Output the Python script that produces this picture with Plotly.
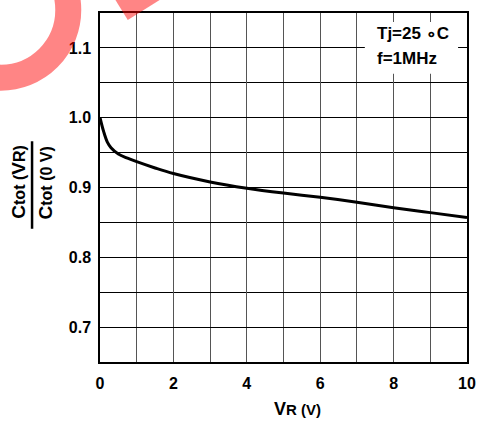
import plotly.graph_objects as go

# Data
vr = [0, 0.1, 0.2, 0.3, 0.5, 0.75, 1, 1.5, 2, 3, 4, 5, 6, 7, 8, 9, 10]
ratio = [1.0, 0.980, 0.965, 0.957, 0.948, 0.942, 0.937, 0.928, 0.920, 0.908,
         0.899, 0.892, 0.886, 0.879, 0.871, 0.864, 0.857]
x_ticks = [0, 2, 4, 6, 8, 10]
y_ticks = [0.7, 0.8, 0.9, 1.0, 1.1]

W, H = 487, 423
L, R, T, B = 100, 17, 11, 61
PW, PH = W - L - R, H - T - B

def px(x):
    return (x - L) / PW

def py(y):
    return (H - B - y) / PH

FONT = "Liberation Sans, Arial, sans-serif"

fig = go.Figure()
fig.add_trace(go.Scatter(x=vr, y=ratio, mode="lines",
                         line=dict(color="black", width=3, shape="spline"),
                         showlegend=False, hoverinfo="skip"))

fig.update_layout(
    width=W, height=H,
    margin=dict(l=L, r=R, t=T, b=B),
    paper_bgcolor="white", plot_bgcolor="white",
    font=dict(family=FONT, color="black"),
    xaxis=dict(range=[0, 10], tickvals=x_ticks, ticktext=[str(v) for v in x_ticks],
               showgrid=True, gridcolor="#555", gridwidth=1.3,
               minor=dict(dtick=1, tick0=0, showgrid=True, gridcolor="#555", gridwidth=1.3),
               showline=True, linecolor="black", linewidth=1.5, mirror=True,
               ticks="", zeroline=False, ticklabelstandoff=6,
               tickfont=dict(family=FONT, size=16, color="black", weight="bold")),
    yaxis=dict(range=[0.65, 1.15], tickvals=y_ticks, ticktext=[f"{v:.1f}" for v in y_ticks],
               showgrid=True, gridcolor="black", gridwidth=1,
               minor=dict(dtick=0.05, tick0=0.65, showgrid=True, gridcolor="black", gridwidth=1),
               showline=True, linecolor="black", linewidth=1.5, mirror=True,
               ticks="", zeroline=False, ticklabelstandoff=4,
               tickfont=dict(family=FONT, size=16, color="black", weight="bold")),
)

shapes = []
# white box behind conditions text
shapes.append(dict(type="rect", xref="paper", yref="paper",
                   x0=px(367), x1=px(461), y0=py(72), y1=py(20),
                   fillcolor="white", line=dict(width=0), layer="above"))
# fraction bar of y title
shapes.append(dict(type="line", xref="paper", yref="paper",
                   x0=px(31.5), x1=px(31.5), y0=py(228), y1=py(140),
                   line=dict(color="black", width=2.5)))
# red watermark fragments
cx, cy, r = 0, 8, 68
shapes.append(dict(type="circle", xref="paper", yref="paper",
                   x0=px(cx - r), x1=px(cx + r), y0=py(cy + r), y1=py(cy - r),
                   line=dict(color="rgba(255,0,0,0.48)", width=26), fillcolor="rgba(0,0,0,0)",
                   layer="above"))
shapes.append(dict(type="path", xref="paper", yref="paper",
                   path=f"M {px(112.5)},{py(-7)} L {px(168)},{py(-7)} L {px(128)},{py(18)} Z",
                   fillcolor="rgba(255,0,0,0.48)", line=dict(width=0), layer="above"))
fig.update_layout(shapes=shapes)

bf = dict(family=FONT, size=17, color="black", weight="bold")
ann = []
ann.append(dict(text="Tj=25 \u2218C", xref="paper", yref="paper", x=px(377), y=py(31.5),
                xanchor="left", yanchor="middle", showarrow=False, font=bf))
ann.append(dict(text="f=1MHz", xref="paper", yref="paper", x=px(377), y=py(56.5),
                xanchor="left", yanchor="middle", showarrow=False, font=bf))
ann.append(dict(text="<span style='font-size:18px'>V</span>R (V)",
                xref="paper", yref="paper", x=px(299), y=py(409),
                xanchor="center", yanchor="middle", showarrow=False,
                font=dict(family=FONT, size=15, color="black", weight="bold")))
ann.append(dict(text="<span style='font-size:19px'>C</span>tot (<span style='font-size:19px'>V</span>R)",
                xref="paper", yref="paper", x=px(17), y=py(181),
                xanchor="center", yanchor="middle", textangle=-90, showarrow=False,
                font=dict(family=FONT, size=16, color="black", weight="bold")))
ann.append(dict(text="<span style='font-size:19px'>C</span>tot (0 V)",
                xref="paper", yref="paper", x=px(45), y=py(182),
                xanchor="center", yanchor="middle", textangle=-90, showarrow=False,
                font=dict(family=FONT, size=16, color="black", weight="bold")))
fig.update_layout(annotations=ann)

fig.write_html("out.html", config={"displayModeBar": False},
               post_script="document.body.style.margin='0';document.body.style.overflow='hidden';")
